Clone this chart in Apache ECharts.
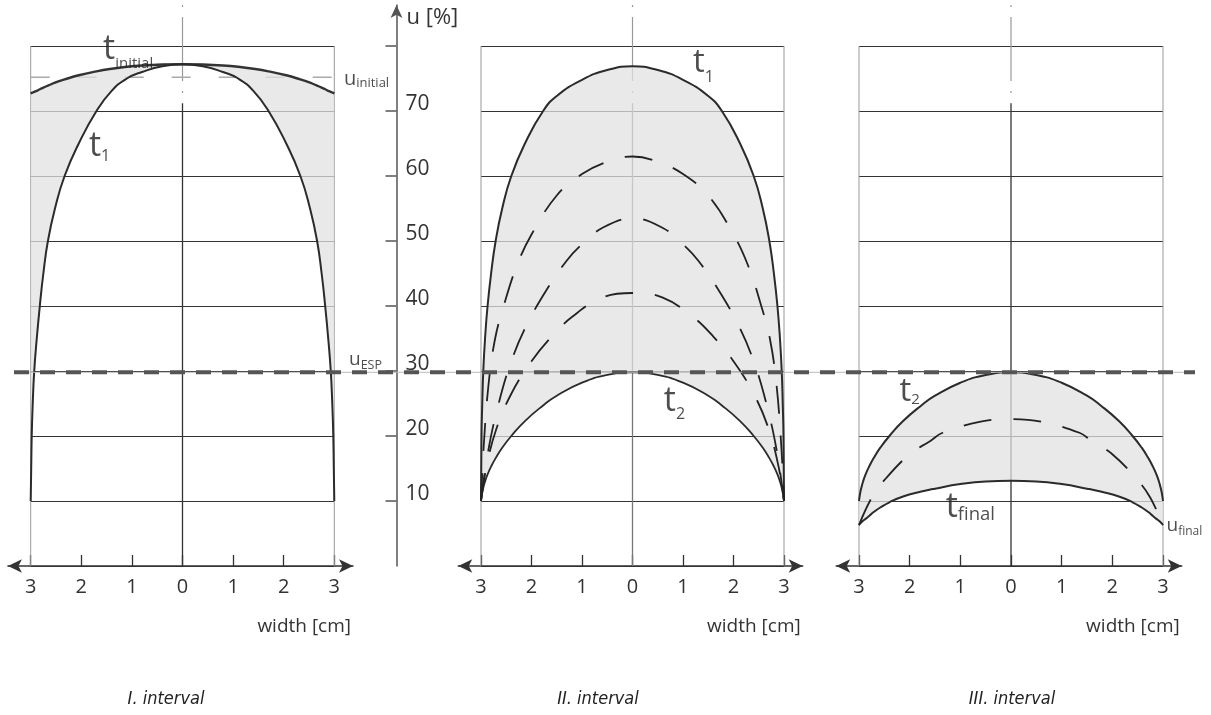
<!DOCTYPE html>
<html>
<head>
<meta charset="utf-8">
<script src="https://cdn.jsdelivr.net/npm/echarts@6/dist/echarts.min.js"></script>
<style>html,body{margin:0;padding:0;background:#fff}#c{width:1211px;height:715px}</style>
</head>
<body>
<div id="c"></div>
<script>
// ---------- data ----------
const widthTicks = [-3, -2, -1, 0, 1, 2, 3];
const uTicks = [10, 20, 30, 40, 50, 60, 70, 80];
const uLabels = [10, 20, 30, 40, 50, 60, 70];
const uESP = 29.8;
const uInitial = 75.2;

// I. interval
const wI = [-3, -2.99, -2.98, -2.96, -2.93, -2.88, -2.82, -2.75, -2.66, -2.52, -2.33, -2.05, -1.7, -1.4, -1.1, -0.8, -0.4, 0,
            0.4, 0.8, 1.1, 1.4, 1.7, 2.05, 2.33, 2.52, 2.66, 2.75, 2.82, 2.88, 2.93, 2.96, 2.98, 2.99, 3];
const t1I = [10, 15, 20, 25, 30, 35, 40, 45, 50, 55, 60, 65, 70, 73.1, 75.0, 76.0, 76.9, 77.2,
             76.9, 76.0, 75.0, 73.1, 70, 65, 60, 55, 50, 45, 40, 35, 30, 25, 20, 15, 10];
const tInitialI = [72.7, 72.74, 72.78, 72.85, 72.95, 73.1, 73.35, 73.6, 73.9, 74.35, 74.85, 75.5, 76.1, 76.5, 76.8, 77.0, 77.15, 77.2,
                   77.15, 77.0, 76.8, 76.5, 76.1, 75.5, 74.85, 74.35, 73.9, 73.6, 73.35, 73.1, 72.95, 72.85, 72.78, 72.74, 72.7];

// II. interval
const wII = [-3, -2.99, -2.975, -2.955, -2.92, -2.87, -2.8, -2.71, -2.58, -2.4, -2.13, -1.77, -1.5, -1, -0.5, 0,
             0.5, 1, 1.5, 1.77, 2.13, 2.4, 2.58, 2.71, 2.8, 2.87, 2.92, 2.955, 2.975, 2.99, 3];
const t1II = [10, 20, 25, 30, 35, 40, 45, 50, 55, 60, 65, 70, 72.3, 74.8, 76.3, 76.9,
              76.3, 74.8, 72.3, 70, 65, 60, 55, 50, 45, 40, 35, 30, 25, 20, 10];
const t2II = [10, 10.6, 11.3, 12.0, 13.0, 14.1, 15.3, 16.6, 18.2, 20.0, 22.3, 24.7, 26.2, 28.2, 29.4, 29.8,
              29.4, 28.2, 26.2, 24.7, 22.3, 20.0, 18.2, 16.6, 15.3, 14.1, 13.0, 12.0, 11.3, 10.6, 10];
const wA = [-3, -2.95, -2.85, -2.72, -2.55, -2.3, -2, -1.5, -1, -0.5, 0, 0.5, 1, 1.5, 2, 2.3, 2.55, 2.72, 2.85, 2.95, 3];
const uA = [10, 18, 28, 35, 40, 46, 51, 57, 60.3, 62.2, 63, 62.2, 60.3, 57, 51, 46, 40, 35, 28, 18, 10];
const wB = [-3, -2.85, -2.65, -2.4, -2.1, -1.7, -1.3, -1, -0.6, 0, 0.6, 1, 1.3, 1.7, 2.1, 2.4, 2.65, 2.85, 3];
const uB = [10, 18, 25, 31.5, 37, 42.5, 47, 49.5, 52, 53.5, 52, 49.5, 47, 42.5, 37, 31.5, 25, 18, 10];
const wC = [-3, -2.9, -2.7, -2.4, -2, -1.6, -1.2, -0.6, 0, 0.6, 1.2, 1.6, 2, 2.4, 2.7, 2.9, 3];
const uC = [10, 15, 21, 26.5, 31.5, 35.3, 38.3, 41.3, 42, 41.3, 38.3, 35.3, 31.5, 26.5, 21, 15, 10];

// III. interval
const wIII = [-3, -2.99, -2.975, -2.955, -2.92, -2.87, -2.8, -2.71, -2.58, -2.4, -2.13, -1.77, -1.5, -1, -0.5, 0,
              0.5, 1, 1.5, 1.77, 2.13, 2.4, 2.58, 2.71, 2.8, 2.87, 2.92, 2.955, 2.975, 2.99, 3];
const t2III = [10, 10.6, 11.3, 12.0, 13.0, 14.1, 15.3, 16.6, 18.2, 20.0, 22.3, 24.7, 26.2, 28.2, 29.4, 29.8,
               29.4, 28.2, 26.2, 24.7, 22.3, 20.0, 18.2, 16.6, 15.3, 14.1, 13.0, 12.0, 11.3, 10.6, 10];
const tFinalIII = [6.3, 6.4, 6.55, 6.7, 6.95, 7.25, 7.7, 8.3, 9.0, 9.8, 10.7, 11.45, 11.9, 12.6, 13.0, 13.1,
                   13.0, 12.6, 11.9, 11.45, 10.7, 9.8, 9.0, 8.3, 7.7, 7.25, 6.95, 6.7, 6.55, 6.4, 6.3];
const wD = [-3, -2.75, -2.5, -2, -1.6, -1.35, -0.6, 0, 0.6, 1.35, 1.6, 2, 2.5, 2.75, 3];
const uD = [6.3, 10.5, 13.2, 17.2, 19.2, 20.5, 22.2, 22.6, 22.2, 20.5, 19.2, 17.2, 13.2, 10.5, 6.3];

const intervalTitles = ['I. interval', 'II. interval', 'III. interval'];

// ---------- layout / style ----------
const FONT = "'Open Sans', 'Noto Sans', sans-serif";
const TFONT = "'Liberation Sans Narrow', 'DejaVu Sans Condensed', 'Open Sans', sans-serif";
const PANEL = [
  { left: 30.7, width: 303.6, center: '#333' },
  { left: 481, width: 303, center: '#777' },
  { left: 859, width: 304, center: '#333' }
];
const TITLE_X = [166, 598, 1012];
const FILL = 'rgba(225,225,225,0.74)';
const UTOP = 86.3;       // u value at the top of the drawing area
const CENTER_SPLIT = 71.2;
const SMOOTH = 0.5;

const annotations = [
  { g: 0, w: -1.57, u: 79.5, m: 't', s: 'initial', ms: 34, ss: 15, p: 28 },
  { g: 0, w: -1.85, u: 64.5, m: 't', s: '1', ms: 34, ss: 16, p: 20 },
  { g: 0, w: 3.19, u: 74.9, m: 'u', s: 'initial', ms: 20, ss: 13, p: 8 },
  { g: 0, w: 3.29, u: 31.8, m: 'u', s: 'ESP', ms: 19, ss: 12.5, p: 12 },
  { g: 1, w: 1.2, u: 77.5, m: 't', s: '1', ms: 33, ss: 16, p: 30 },
  { g: 1, w: 0.62, u: 25.4, m: 't', s: '2', ms: 34, ss: 16, p: 28 },
  { g: 2, w: -2.2, u: 26.8, m: 't', s: '2', ms: 33, ss: 15, p: 16 },
  { g: 2, w: -1.29, u: 9.1, m: 't', s: 'final', ms: 34, ss: 18.5, p: 15 },
  { g: 2, w: 3.07, u: 6.15, m: 'u', s: 'final', ms: 19, ss: 12, p: 11 }
];

const zip = (xs, ys) => xs.map((x, i) => [x, ys[i]]);
// value first, width second (so that stacking acts on the u dimension)
const zipUW = (xs, ys) => xs.map((x, i) => [ys[i], x]);
const diff = (a, b) => a.map((v, i) => +(v - b[i]).toFixed(4));

function line(gi, data, style, z, extra) {
  return Object.assign({
    type: 'line', xAxisIndex: gi, yAxisIndex: gi, data: data,
    symbol: 'none', showSymbol: false, silent: true, animation: false,
    clip: false, z: z, lineStyle: style
  }, extra || {});
}
function stacked(gi, w, u, style, z, stack, area) {
  const extra = { smooth: SMOOTH, stack: stack, stackStrategy: 'all', encode: { x: 1, y: 0 } };
  if (area) extra.areaStyle = { color: FILL, opacity: 1 };
  return line(gi, zipUW(w, u), style, z, extra);
}

const grids = [], xAxes = [], yAxes = [], series = [];

// panel plotting grids 0..2
PANEL.forEach((p, i) => {
  grids.push({ left: p.left, top: 46, width: p.width, height: 520 });
  xAxes.push({ gridIndex: i, type: 'value', min: -3, max: 3, show: false });
  yAxes.push({
    gridIndex: i, type: 'value', min: 0, max: 80, interval: 10,
    axisLine: { show: false }, axisTick: { show: false }, axisLabel: { show: false },
    splitLine: { show: true, lineStyle: { color: '#333', width: 1.2 } }
  });
});
// arrow x-axes grids 3..5
PANEL.forEach((p, i) => {
  const unit = p.width / 6;
  grids.push({ left: p.left - 0.45 * unit, width: 6.82 * unit, top: 565, height: 1 });
  xAxes.push({
    gridIndex: 3 + i, type: 'value', min: -3.45, max: 3.37, position: 'bottom',
    axisLine: { show: true, onZero: false, symbol: ['arrow', 'arrow'], symbolSize: [10, 14], lineStyle: { color: '#333', width: 1.5 } },
    axisTick: { show: true, inside: true, length: 11, customValues: widthTicks, lineStyle: { color: '#333', width: 1.3 } },
    axisLabel: { show: true, customValues: widthTicks, formatter: v => String(Math.abs(v)), margin: 11, fontSize: 20, color: '#333', fontFamily: FONT },
    splitLine: { show: false },
    name: 'width [cm]', nameLocation: 'end', nameGap: -2,
    nameTextStyle: { align: 'right', verticalAlign: 'top', padding: [51, 0, 0, 0], fontSize: 19, color: '#333', fontFamily: FONT }
  });
  yAxes.push({ gridIndex: 3 + i, type: 'value', show: false, min: 0, max: 1 });
});
// u axis grid 6
grids.push({ left: 395.5, width: 1, top: 5, height: 561 });
xAxes.push({ gridIndex: 6, type: 'value', show: false, min: 0, max: 1 });
yAxes.push({
  gridIndex: 6, type: 'value', min: 0, max: UTOP, position: 'right',
  axisLine: { show: true, onZero: false, symbol: ['none', 'arrow'], symbolSize: [9, 13], lineStyle: { color: '#555', width: 1.5 } },
  axisTick: { show: true, inside: true, length: 11, customValues: uTicks, lineStyle: { color: '#555', width: 1.5 } },
  axisLabel: { show: true, customValues: uLabels, margin: 9, fontSize: 21, color: '#333', fontFamily: FONT, verticalAlign: 'bottom', lineHeight: 14 },
  splitLine: { show: false },
  name: 'u [%]', nameLocation: 'end', nameGap: -13,
  nameTextStyle: { align: 'left', verticalAlign: 'middle', padding: [0, 0, 0, 10], fontSize: 22, color: '#333', fontFamily: FONT }
});
// full width grid 7 for u_ESP
grids.push({ left: 14, width: 1181, top: 5, height: 561 });
xAxes.push({ gridIndex: 7, type: 'value', show: false, min: 0, max: 1 });
yAxes.push({ gridIndex: 7, type: 'value', show: false, min: 0, max: UTOP });

// frame lines of each panel
PANEL.forEach((p, i) => {
  const wl = widthTicks[0], wr = widthTicks[widthTicks.length - 1], ut = uTicks[uTicks.length - 1];
  series.push(line(i, [[wl, 0], [wl, ut]], { color: '#999', width: 1 }, 1));
  series.push(line(i, [[wr, 0], [wr, ut]], { color: '#999', width: 1 }, 1));
  series.push(line(i, [[0, 0], [0, CENTER_SPLIT]], { color: p.center, width: 1.3 }, 1));
  series.push(line(i, [[0, UTOP], [0, CENTER_SPLIT]], { color: '#999', width: 1.2, type: [2, 10, 64, 10, 2, 10] }, 1));
});

// I. interval
series.push(line(0, [[-3, uInitial], [3, uInitial]], { color: '#aaa', width: 1.5, type: [19, 28] }, 1));
series.push(stacked(0, wI, t1I, { color: '#2b2b2b', width: 2 }, 3, 'I', false));
series.push(stacked(0, wI, diff(tInitialI, t1I), { color: '#333', width: 2.4 }, 2, 'I', true));

// II. interval
series.push(stacked(1, wII, t2II, { color: '#2b2b2b', width: 1.8 }, 3, 'II', false));
series.push(stacked(1, wII, diff(t1II, t2II), { color: '#2b2b2b', width: 2 }, 2, 'II', true));
[[wA, uA], [wB, uB], [wC, uC]].forEach(([w, u]) => {
  series.push(line(1, zip(w, u), { color: '#222', width: 1.8, type: [28, 22] }, 3, { smooth: 0.4 }));
});

// III. interval
series.push(stacked(2, wIII, tFinalIII, { color: '#2b2b2b', width: 2 }, 3, 'III', false));
series.push(stacked(2, wIII, diff(t2III, tFinalIII), { color: '#2b2b2b', width: 2 }, 2, 'III', true));
series.push(line(2, zip(wD, uD), { color: '#222', width: 1.8, type: [28, 22] }, 3, { smooth: 0.4 }));

// u_ESP line across the whole figure
series.push(line(7, [[0, uESP], [1, uESP]], { color: '#bbb', width: 1 }, 4));
series.push(line(7, [[0, uESP], [1, uESP]], { color: '#555', width: 4, type: [15, 11] }, 5));

// annotations
annotations.forEach(a => {
  series.push({
    type: 'scatter', xAxisIndex: a.g, yAxisIndex: a.g, data: [[a.w, a.u]],
    symbolSize: 0, clip: false, silent: true, animation: false, z: 6,
    label: {
      show: true, position: 'inside', align: 'left', verticalAlign: 'middle',
      formatter: '{m|' + a.m + '}{s|' + a.s + '}',
      rich: {
        m: { fontSize: a.ms, lineHeight: a.ms, fontFamily: FONT, color: '#222' },
        s: { fontSize: a.ss, lineHeight: a.ss, fontFamily: FONT, color: '#222', padding: [a.p, 0, 0, 0] }
      }
    }
  });
});

const chart = echarts.init(document.getElementById('c'), null, { renderer: 'canvas' });
chart.setOption({
  backgroundColor: '#fff',
  animation: false,
  grid: grids,
  xAxis: xAxes,
  yAxis: yAxes,
  series: series,
  graphic: intervalTitles.map((t, i) => ({
    type: 'text', x: TITLE_X[i], y: 699, silent: true,
    style: { text: t, fontSize: 18, fontStyle: 'italic', fontFamily: TFONT, fill: '#222', textAlign: 'center', textVerticalAlign: 'middle' }
  }))
});
</script>
</body>
</html>
